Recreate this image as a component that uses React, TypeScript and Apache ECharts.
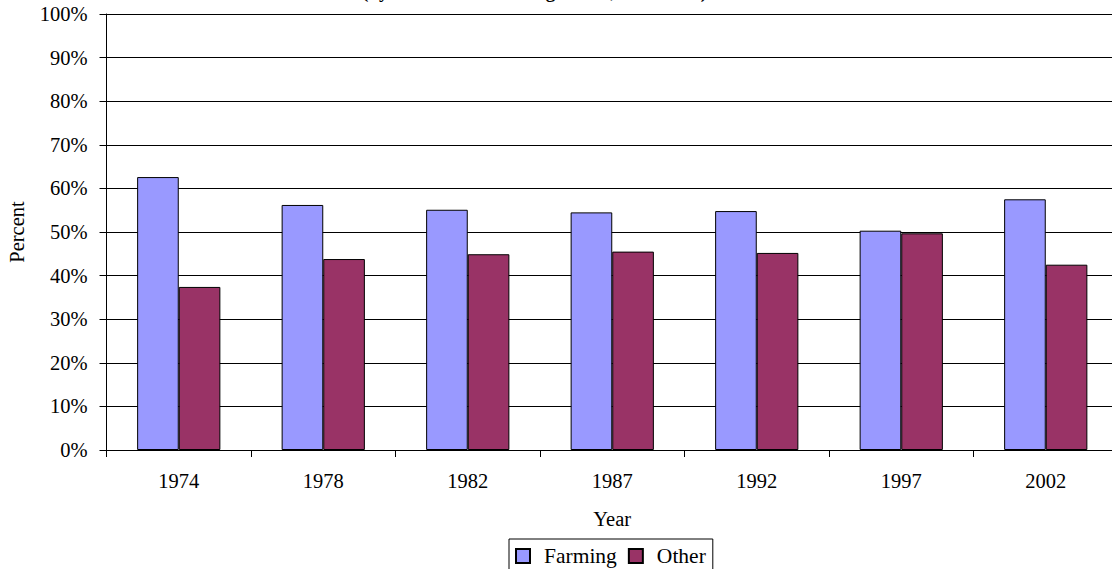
import React, { useEffect, useRef } from "react";
import * as echarts from "echarts";

const years = ["1974", "1978", "1982", "1987", "1992", "1997", "2002"];
const farming = [62.6, 56.2, 55.1, 54.5, 54.8, 50.3, 57.5];
const other = [37.4, 43.8, 44.9, 45.5, 45.2, 49.7, 42.5];
const titleText = "(by Household Farming Status, All Farms)";

const FONT = "Liberation Serif";
const FS = 20.5;

export default function App() {
  const ref = useRef<HTMLDivElement>(null);
  useEffect(() => {
    document.body.style.margin = "0";
    const chart = echarts.init(ref.current!, null, { renderer: "svg" });
    chart.setOption({
      animation: false,
      backgroundColor: "#fff",
      textStyle: { fontFamily: FONT, color: "#000" },
      graphic: [
        {
          type: "text",
          left: 362,
          top: -18,
          style: { text: titleText, font: `bold 19px "Liberation Serif"`, fill: "#000" },
        },
      ],
      grid: { left: 106.5, right: -6, top: 14, bottom: 119, outerBoundsMode: "none", containLabel: false },
      legend: {
        data: ["Farming", "Other"],
        left: 509,
        top: 539,
        orient: "horizontal",
        icon: "rect",
        itemWidth: 14,
        itemHeight: 14,
        itemGap: 11,
        borderColor: "#000",
        borderWidth: 1,
        borderRadius: 0,
        padding: [6, 7, 6, 6],
        textStyle: { fontFamily: FONT, fontSize: 21.5, color: "#000", padding: [0, 0, 0, 9] },
      },
      xAxis: {
        type: "category",
        data: years,
        name: "Year",
        nameLocation: "middle",
        nameGap: 58,
        nameTextStyle: { fontFamily: FONT, fontSize: FS, color: "#000" },
        axisLine: { lineStyle: { color: "#000", width: 1 } },
        axisTick: { show: true, alignWithLabel: false, length: 7, lineStyle: { color: "#000" } },
        axisLabel: { fontFamily: FONT, fontSize: FS, color: "#000", margin: 20 },
      },
      yAxis: {
        type: "value",
        min: 0,
        max: 100,
        interval: 10,
        name: "Percent",
        nameLocation: "middle",
        nameGap: 79,
        nameRotate: 90,
        nameTextStyle: { fontFamily: FONT, fontSize: FS, color: "#000" },
        axisLine: { show: true, lineStyle: { color: "#000", width: 1 } },
        axisTick: { show: true, length: 7, lineStyle: { color: "#000" } },
        axisLabel: { fontFamily: FONT, fontSize: FS, color: "#000", margin: 19, formatter: "{value}%" },
        splitLine: { show: true, lineStyle: { color: "#000", width: 1 } },
      },
      series: [
        {
          name: "Farming",
          type: "bar",
          data: farming,
          barGap: "0%",
          barCategoryGap: "42.4%",
          itemStyle: { color: "#9999FF", borderColor: "#000", borderWidth: 1 },
        },
        {
          name: "Other",
          type: "bar",
          data: other,
          barGap: "0%",
          barCategoryGap: "42.4%",
          itemStyle: { color: "#993366", borderColor: "#000", borderWidth: 1 },
        },
      ],
    });
    return () => chart.dispose();
  }, []);
  return <div ref={ref} style={{ width: 1112, height: 569 }} />;
}
